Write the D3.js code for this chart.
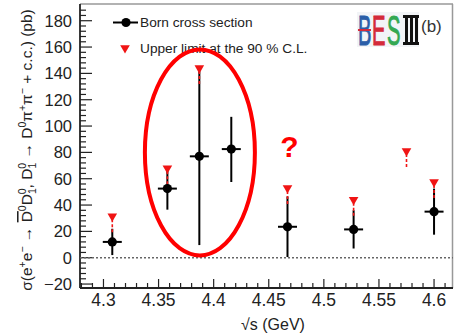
<!DOCTYPE html>
<html><head><meta charset="utf-8">
<script src="https://cdn.jsdelivr.net/npm/d3@7/dist/d3.min.js"></script>
<style>
html,body{margin:0;padding:0;background:#fff;}
svg{display:block;font-family:"Liberation Sans",Arial,sans-serif;}
</style></head>
<body><svg id="c" width="454" height="336"></svg>
<script>
// ---- data ----
const energies = [4.308, 4.358, 4.387, 4.416, 4.467, 4.527, 4.600];
const crossSection = [12, 52.5, 77, 82.5, 23.5, 21.5, 35];
const errLow = [10, 16, 67.4, 25, 23, 14.5, 17.5];
const errHigh = [10, 14, 64.6, 24.5, 23, 14.5, 17.5];
const ulEnergies = [4.308, 4.358, 4.387, 4.467, 4.527, 4.575, 4.600];
const upperLimits = [31.5, 68, 144, 53, 44, 81, 57.5];
const xTicks = [4.3, 4.35, 4.4, 4.45, 4.5, 4.55, 4.6];
const yTicks = [-20, 0, 20, 40, 60, 80, 100, 120, 140, 160, 180];
const legendLabels = ["Born cross section", "Upper limit at the 90 % C.L."];

// ---- layout ----
const svg = d3.select("#c");
const L = 80, R = 453, T = 4, B = 288;
const x = d3.scaleLinear().domain([4.2787, 4.6172]).range([L, R]);
const y = d3.scaleLinear().domain([-23, 192.7]).range([B, T]);
const red = "#f01414";

// frame
svg.append("line").attr("x1", L).attr("x2", R).attr("y1", T).attr("y2", T).attr("stroke", "#999").attr("stroke-width", 1.5);
svg.append("line").attr("x1", R - 0.5).attr("x2", R - 0.5).attr("y1", T).attr("y2", B).attr("stroke", "#999").attr("stroke-width", 1.5);

// y axis (ticks inside)
const yMinor = d3.range(-20, 192, 4);
svg.append("g").selectAll("line").data(yMinor).join("line")
  .attr("x1", L).attr("x2", d => L + (d % 20 === 0 ? 12 : 6))
  .attr("y1", d => y(d)).attr("y2", d => y(d)).attr("stroke", "#222").attr("stroke-width", 1.2);
svg.append("g").selectAll("text").data(yTicks).join("text")
  .attr("x", 72).attr("y", d => y(d)).attr("dy", "0.36em").attr("text-anchor", "end")
  .attr("font-size", 16.5).attr("fill", "#222")
  .text(d => d < 0 ? "\u2212" + Math.abs(d) : d);

// x axis (ticks inside)
const xMinor = d3.range(4.28, 4.617, 0.01).map(v => +v.toFixed(2));
svg.append("g").selectAll("line").data(xMinor).join("line")
  .attr("x1", d => x(d)).attr("x2", d => x(d)).attr("y1", B)
  .attr("y2", d => B - (Math.round(d * 100) % 5 === 0 ? 9 : 5))
  .attr("stroke", "#222").attr("stroke-width", 1.2);
svg.append("g").selectAll("text").data(xTicks).join("text")
  .attr("x", d => x(d)).attr("y", 306).attr("text-anchor", "middle")
  .attr("font-size", 17.5).attr("fill", "#222").text(d => d);

svg.append("line").attr("x1", L).attr("x2", L).attr("y1", T).attr("y2", B).attr("stroke", "#222").attr("stroke-width", 1.8);
svg.append("line").attr("x1", L).attr("x2", R).attr("y1", B).attr("y2", B).attr("stroke", "#222").attr("stroke-width", 1.8);

// zero line
svg.append("line").attr("x1", L).attr("x2", R).attr("y1", y(0)).attr("y2", y(0))
  .attr("stroke", "#666").attr("stroke-width", 1.5).attr("stroke-dasharray", "2,2");

// x title
svg.append("text").attr("x", 273).attr("y", 330).attr("text-anchor", "middle").attr("font-size", 16).attr("fill", "#222")
  .text("\u221As (GeV)");

// y title with sub/superscripts
const segs = [["σ(e",""],["+","sup"],["e",""],["\u2212","sup"],[" \u2192 ",""],["D","bar"],["0","sup"],["D",""],["1","sub"],["0","stack"],[", D",""],["1","sub"],["0","stack"],[" \u2192 D",""],["0","sup"],["π",""],["+","sup"],["π",""],["\u2212","sup"],[" + c.c.) (pb)",""]];
const yt = svg.append("text").attr("transform", "translate(32,150) rotate(-90)")
  .attr("text-anchor", "middle").attr("font-size", 15.5).attr("fill", "#222");
let shift = 0;
segs.forEach(([t, k]) => {
  const ts = yt.append("tspan").text(t);
  let target = 0, dx = 0;
  if (k === "sup") { target = -6; ts.attr("font-size", 10.5); }
  else if (k === "sub") { target = 4; ts.attr("font-size", 10.5); }
  else if (k === "stack") { target = -6; dx = -6; ts.attr("font-size", 10.5); }
  else if (k === "bar") { ts.style("text-decoration", "overline"); }
  if (target !== shift) ts.attr("dy", target - shift);
  if (dx) ts.attr("dx", dx);
  shift = target;
});

// error bars
const pts = energies.map((e, i) => ({e, v: crossSection[i], lo: crossSection[i] - errLow[i], hi: crossSection[i] + errHigh[i]}));
const g = svg.append("g");
g.selectAll("line.v").data(pts).join("line").attr("class", "v")
  .attr("x1", d => x(d.e)).attr("x2", d => x(d.e)).attr("y1", d => y(d.lo)).attr("y2", d => y(d.hi))
  .attr("stroke", "#000").attr("stroke-width", 2);
g.selectAll("line.h").data(pts).join("line").attr("class", "h")
  .attr("x1", d => x(d.e) - 9.5).attr("x2", d => x(d.e) + 9.5).attr("y1", d => y(d.v)).attr("y2", d => y(d.v))
  .attr("stroke", "#000").attr("stroke-width", 2);

// upper limits
const uls = ulEnergies.map((e, i) => ({e, v: upperLimits[i]}));
g.selectAll("line.ul").data(uls).join("line").attr("class", "ul")
  .attr("x1", d => x(d.e)).attr("x2", d => x(d.e)).attr("y1", d => y(d.v) + 3).attr("y2", d => y(d.v) + 16)
  .attr("stroke", red).attr("stroke-width", 1.6).attr("stroke-dasharray", "3,2");
const tri = d3.symbol().type(d3.symbolTriangle).size(40);
g.selectAll("path.tri").data(uls).join("path").attr("class", "tri")
  .attr("d", tri).attr("transform", d => `translate(${x(d.e)},${y(d.v)}) rotate(180)`).attr("fill", red);

g.selectAll("circle").data(pts).join("circle")
  .attr("cx", d => x(d.e)).attr("cy", d => y(d.v)).attr("r", 4.6).attr("fill", "#000");

// legend
const lg = svg.append("g");
lg.append("line").attr("x1", 113).attr("x2", 138).attr("y1", 22.5).attr("y2", 22.5).attr("stroke", "#000").attr("stroke-width", 2);
lg.append("circle").attr("cx", 126).attr("cy", 22.5).attr("r", 4.6).attr("fill", "#000");
lg.append("path").attr("d", tri).attr("transform", "translate(125,48) rotate(180)").attr("fill", red);
lg.selectAll("text").data(legendLabels).join("text")
  .attr("x", 140).attr("y", (d, i) => 22.5 + i * 25.5).attr("dy", "0.36em")
  .attr("font-size", 13.7).attr("fill", "#222").text(d => d);

// BESIII logo
const logo = svg.append("g").attr("transform", "translate(358,45)");
logo.append("rect").attr("x", -1).attr("y", -33).attr("width", 62).attr("height", 35).attr("fill", "#f2f4f7");
[["B", "#2a5ea8", 0], ["E", "#d42a3a", 14], ["S", "#33a852", 29]].forEach(([t, c, dx]) => {
  logo.append("text").attr("transform", `translate(${dx},0) scale(0.47,1)`).attr("font-size", 43)
    .attr("fill", c).attr("stroke", c).attr("stroke-width", 1).text(t);
});
logo.append("line").attr("x1", 0).attr("x2", 13).attr("y1", -15).attr("y2", -15).attr("stroke", "#d42a3a").attr("stroke-width", 2);
const roman = logo.append("g").attr("transform", "translate(46,0)");
[0, 5, 10].forEach(dx => roman.append("rect").attr("x", dx + 1).attr("y", -28).attr("width", 3).attr("height", 26).attr("fill", "#111"));
roman.append("rect").attr("x", -1).attr("y", -30).attr("width", 16).attr("height", 3).attr("fill", "#111");
roman.append("rect").attr("x", -1).attr("y", -3).attr("width", 16).attr("height", 3).attr("fill", "#111");
svg.append("text").attr("x", 421).attr("y", 32).attr("font-size", 17).attr("fill", "#333").text("(b)");

// red annotations
svg.append("ellipse").attr("cx", x(4.3875)).attr("cy", y(80)).attr("rx", 55).attr("ry", 103)
  .attr("fill", "none").attr("stroke", "#f00").attr("stroke-width", 4);
svg.append("text").attr("x", x(4.4688)).attr("y", 157).attr("text-anchor", "middle")
  .attr("font-size", 30).attr("font-weight", "bold").attr("fill", "#f00").text("?");
</script></body></html>
